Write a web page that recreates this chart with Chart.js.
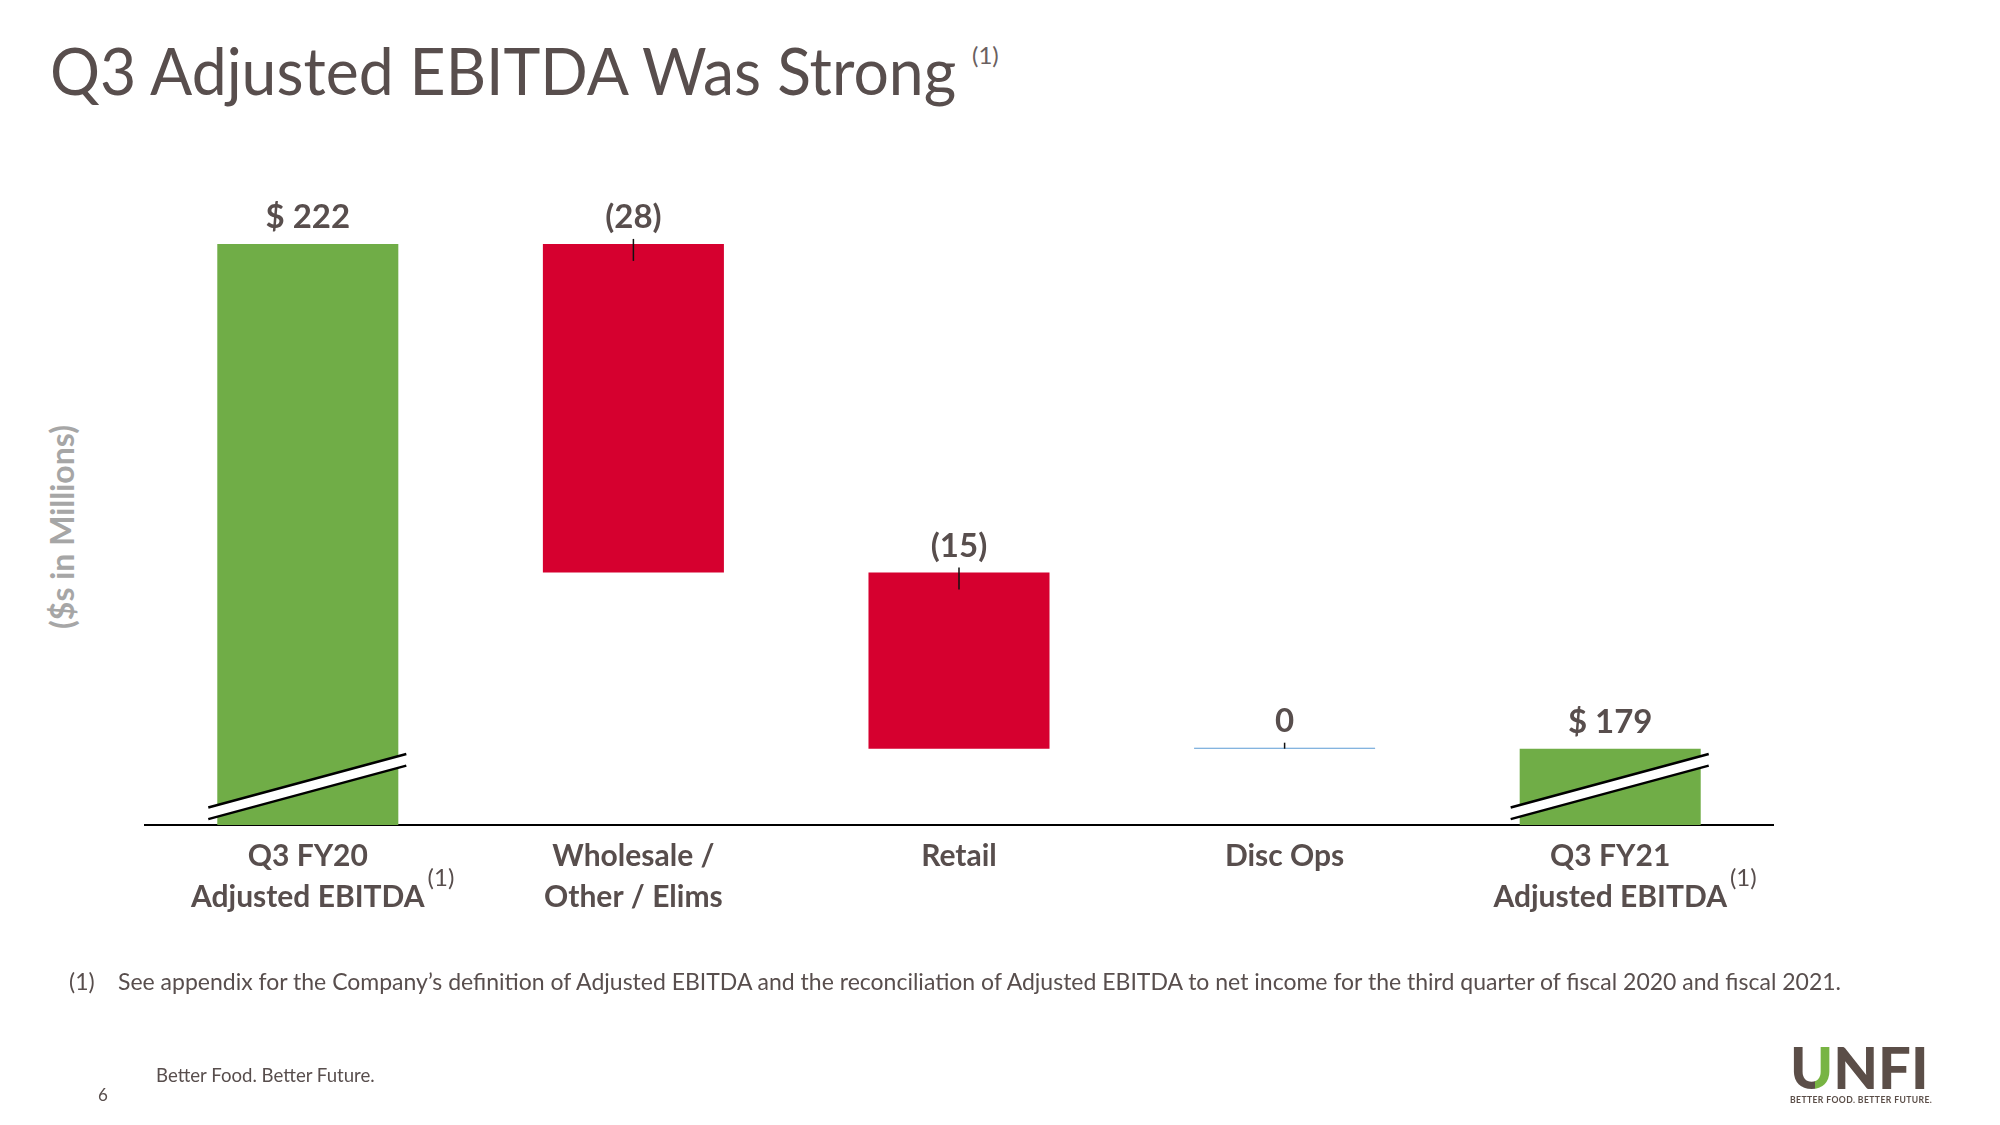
<!DOCTYPE html>
<html>
<head>
<meta charset="utf-8">
<script src="https://cdn.jsdelivr.net/npm/chart.js@4.4.1/dist/chart.umd.min.js"></script>
<style>
  body { margin: 0; width: 2000px; height: 1125px; background: #fff; position: relative; overflow: hidden; font-family: Lato, sans-serif; color: #584e4d; }
  #chart { position: absolute; left: 0; top: 0; }
  .title { position: absolute; left: 50px; top: 30px; font-size: 66px; line-height: 80px; white-space: nowrap; transform: scaleX(0.946); transform-origin: left top; }
  .title-sup { position: absolute; left: 972px; top: 40px; font-size: 24px; line-height: 30px; color: #6a6060; }
  .ytitle { position: absolute; left: 61px; top: 527px; transform: translate(-50%, -50%) rotate(-90deg); font-size: 32px; font-weight: bold; color: #a6a6a6; white-space: nowrap; }
  .foot { position: absolute; top: 966px; font-size: 23px; line-height: 30px; white-space: nowrap; }
  .tag { position: absolute; left: 156px; top: 1064px; font-size: 18.6px; white-space: nowrap; }
  .page { position: absolute; left: 98px; top: 1084px; font-size: 17px; }
  .logo { position: absolute; left: 1790px; top: 1038px; }
  .logo .unfi { font-size: 58px; font-weight: 900; line-height: 58px; color: #5b4e48; letter-spacing: 0px; }
  .logo .u { background: linear-gradient(90deg, #5b4e48 58%, #78b443 58%); -webkit-background-clip: text; background-clip: text; color: transparent; }
  .logo .line { font-size: 8.6px; font-weight: bold; letter-spacing: 0.4px; color: #5b4e48; margin-top: -1px; white-space: nowrap; }
</style>
</head>
<body>
<div class="title">Q3 Adjusted EBITDA Was Strong</div>
<div class="title-sup">(1)</div>
<div class="ytitle">($s in Millions)</div>
<canvas id="chart" width="2000" height="1125"></canvas>
<div class="foot" style="left:69px">(1)</div>
<div class="foot" style="left:118px">See appendix for the Company’s definition of Adjusted EBITDA and the reconciliation of Adjusted EBITDA to net income for the third quarter of fiscal 2020 and fiscal 2021.</div>
<div class="tag">Better Food. Better Future.</div>
<div class="page">6</div>
<div class="logo"><div class="unfi"><span class="u">U</span>NFI</div><div class="line">BETTER FOOD. BETTER FUTURE.</div></div>
<script>
// data
const categories = [
  ['Q3 FY20', 'Adjusted EBITDA'],
  ['Wholesale /', 'Other / Elims'],
  ['Retail'],
  ['Disc Ops'],
  ['Q3 FY21', 'Adjusted EBITDA']
];
const startValue = 222;
const changes = [-28, -15, 0];
const endValue = 179;
const footnoted = [true, false, false, false, true];
const axisMin = 172.5;  // broken axis
const axisMax = 230;

const textColor = '#584e4d';
const green = '#70ad47';
const red = '#d6002f';
const blue = '#5b9bd5';

// build floating bars
const ranges = [[axisMin, startValue]];
const barLabels = ['$ ' + startValue];
const colors = [green];
let running = startValue;
changes.forEach(c => {
  ranges.push([Math.min(running, running + c), Math.max(running, running + c)]);
  barLabels.push(c < 0 ? '(' + (-c) + ')' : String(c));
  colors.push(c < 0 ? red : (c > 0 ? green : blue));
  running += c;
});
ranges.push([axisMin, endValue]);
barLabels.push('$ ' + endValue);
colors.push(green);

const labelFont = 'bold 30px Lato';

const decorations = {
  id: 'decorations',
  afterDatasetsDraw(chart) {
    const ctx = chart.ctx;
    const meta = chart.getDatasetMeta(0);
    const last = meta.data.length - 1;
    ctx.save();
    meta.data.forEach((bar, i) => {
      const top = Math.min(bar.y, bar.base);
      const h = Math.abs(bar.base - bar.y);
      // leader ticks on change bars
      if (i > 0 && i < last) {
        ctx.strokeStyle = '#111';
        ctx.lineWidth = 1.5;
        ctx.beginPath();
        ctx.moveTo(bar.x, top - 5);
        ctx.lineTo(bar.x, top + Math.min(17, h));
        ctx.stroke();
      }
      // break marks on total bars
      if (i === 0 || i === last) {
        const bottom = chart.chartArea.bottom;
        const x0 = bar.x - bar.width / 2 - 9;
        const x1 = bar.x + bar.width / 2 + 8;
        const gap = 11.6;
        ctx.fillStyle = '#fff';
        ctx.beginPath();
        ctx.moveTo(x0, bottom - 17.5);
        ctx.lineTo(x1, bottom - 71);
        ctx.lineTo(x1, bottom - 71 + gap);
        ctx.lineTo(x0, bottom - 17.5 + gap);
        ctx.closePath();
        ctx.fill();
        ctx.strokeStyle = '#000';
        ctx.lineWidth = 2.5;
        ctx.beginPath();
        ctx.moveTo(x0, bottom - 17.5);
        ctx.lineTo(x1, bottom - 71);
        ctx.moveTo(x0, bottom - 17.5 + gap);
        ctx.lineTo(x1, bottom - 71 + gap);
        ctx.stroke();
      }
      // value labels
      ctx.fillStyle = textColor;
      ctx.font = 'bold 33px Lato';
      ctx.textAlign = 'center';
      ctx.textBaseline = 'alphabetic';
      ctx.fillText(barLabels[i], bar.x, top - 16);
    });
    // footnote marks after category labels
    const xs = chart.scales.x;
    ctx.textAlign = 'left';
    ctx.textBaseline = 'middle';
    footnoted.forEach((f, i) => {
      if (!f) return;
      const lines = categories[i];
      ctx.font = labelFont;
      const w = ctx.measureText(lines[lines.length - 1]).width;
      const x = xs.getPixelForTick(i) + w / 2 + 3;
      ctx.font = '24px Lato';
      ctx.fillText('(1)', x, 878);
    });
    ctx.restore();
  }
};

new Chart(document.getElementById('chart'), {
  type: 'bar',
  data: {
    labels: categories,
    datasets: [{
      data: ranges,
      backgroundColor: colors,
      borderWidth: 0,
      minBarLength: 1,
      barPercentage: 0.556,
      categoryPercentage: 1
    }]
  },
  options: {
    responsive: false,
    animation: false,
    layout: { padding: { left: 145, right: 227, top: 150, bottom: 0 } },
    plugins: { legend: { display: false }, tooltip: { enabled: false } },
    scales: {
      x: {
        grid: { display: false, drawTicks: false },
        border: { display: true, color: '#000', width: 2 },
        ticks: {
          color: textColor,
          font: { family: 'Lato', size: 30, weight: 'bold', lineHeight: 1.36 },
          padding: 11,
          maxRotation: 0,
          autoSkip: false
        },
        afterFit(scale) { scale.height = 300; }
      },
      y: { display: false, min: axisMin, max: axisMax }
    }
  },
  plugins: [decorations]
});
</script>
</body>
</html>
